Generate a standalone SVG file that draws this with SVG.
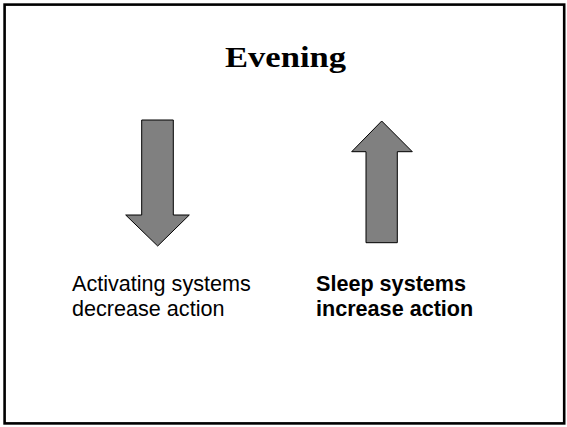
<svg xmlns="http://www.w3.org/2000/svg" width="567" height="427" viewBox="0 0 567 427">
<style>
.arrow{fill:#808080;stroke:#000;stroke-width:1;stroke-linejoin:miter}
.lbl{font-family:"Liberation Sans",Arial,sans-serif;font-size:21.6px;fill:#000}
.b{font-weight:bold}
.title{font-family:"Liberation Serif","Times New Roman",serif;font-size:30px;font-weight:bold;fill:#000}
</style>
<rect x="0" y="0" width="567" height="427" fill="#fff"/>
<rect x="4.6" y="4.6" width="559.6" height="418.8" fill="none" stroke="#000" stroke-width="2.6"/>
<g id="title"><text class="title" x="225" y="66.5" textLength="121" lengthAdjust="spacingAndGlyphs">Evening</text></g>
<g id="down-arrow"><polygon class="arrow" points="141.7,120 173.3,120 173.3,215 189.3,215 157.7,246 125.7,215 141.7,215"/></g>
<g id="up-arrow"><polygon class="arrow" points="381.7,121 412.3,151.7 397.3,151.7 397.3,242.7 366,242.7 366,151.7 351.7,151.7"/></g>
<g id="left-label"><text class="lbl" x="72" y="291">Activating systems</text><text class="lbl" x="72" y="316">decrease action</text></g>
<g id="right-label"><text class="lbl b" x="316" y="291">Sleep systems</text><text class="lbl b" x="316" y="316">increase action</text></g>
</svg>
